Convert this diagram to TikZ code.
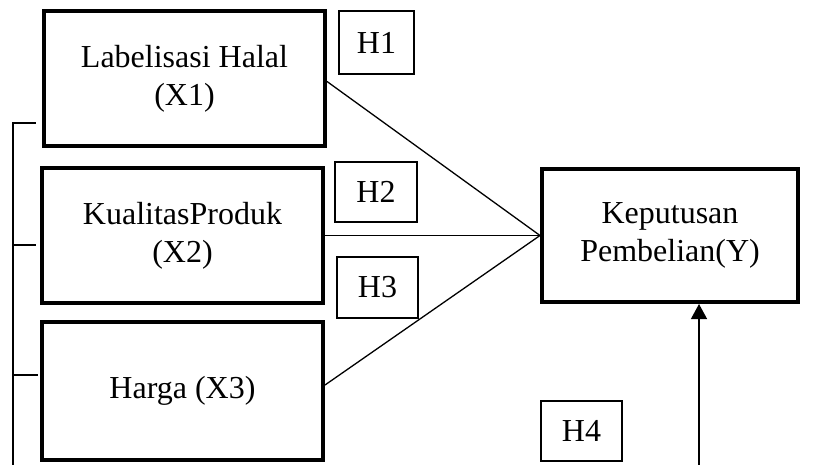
\documentclass[tikz,border=0pt]{standalone}
\usepackage{fontspec}
\setmainfont{Liberation Serif}
\usetikzlibrary{arrows.meta}
\begin{document}
\begin{tikzpicture}[x=1pt,y=-1pt,
  varbox/.style={draw,line width=4pt,align=center,inner sep=0pt,
    font=\fontsize{32}{38}\selectfont},
  hypbox/.style={draw,line width=1.5pt,align=center,inner sep=0pt,
    minimum width=80pt,minimum height=60pt,font=\fontsize{32}{38}\selectfont},
  link/.style={line width=1.3pt}]
\useasboundingbox (0,0) rectangle (813,465);
\node[varbox,minimum width=281pt,minimum height=135pt] (x1) at (184.5,78.5) {Labelisasi Halal\\(X1)};
\node[varbox,minimum width=281pt,minimum height=134pt] (x2) at (182.5,235.5) {KualitasProduk\\(X2)};
\node[varbox,minimum width=281pt,minimum height=138pt] (x3) at (182.5,391) {Harga (X3)};
\node[varbox,minimum width=256pt,minimum height=133pt] (y) at (670,235.5) {Keputusan\\Pembelian(Y)};
\node[hypbox,minimum width=75pt,minimum height=63pt] (h1) at (376.5,42.5) {H1};
\node[hypbox,minimum width=82pt] (h2) at (376,192) {H2};
\node[hypbox,minimum width=81pt,minimum height=61pt] (h3) at (377.5,287.5) {H3};
\node[hypbox,minimum width=81pt] (h4) at (581.5,431) {H4};
\draw[link] ([yshift=-3pt]x1.east) -- (y.west);
\draw[link] (x2.east) -- (y.west);
\draw[link] ([yshift=6pt]x3.east) -- (y.west);
\coordinate (a0) at (699,466);
\draw[link,-{Triangle[width=16pt,length=15pt]}] (a0) -- (a0 |- y.south);
\coordinate (b0) at (13,466);
\coordinate (b1) at (13,123);
\coordinate (t1) at (36,123);
\coordinate (b2) at (13,245);
\coordinate (t2) at (36,245);
\coordinate (b3) at (13,375);
\coordinate (t3) at (38,375);
\draw[link] (b0) -- (b1) -- (t1);
\draw[link] (b2) -- (t2);
\draw[link] (b3) -- (t3);
\end{tikzpicture}
\end{document}
